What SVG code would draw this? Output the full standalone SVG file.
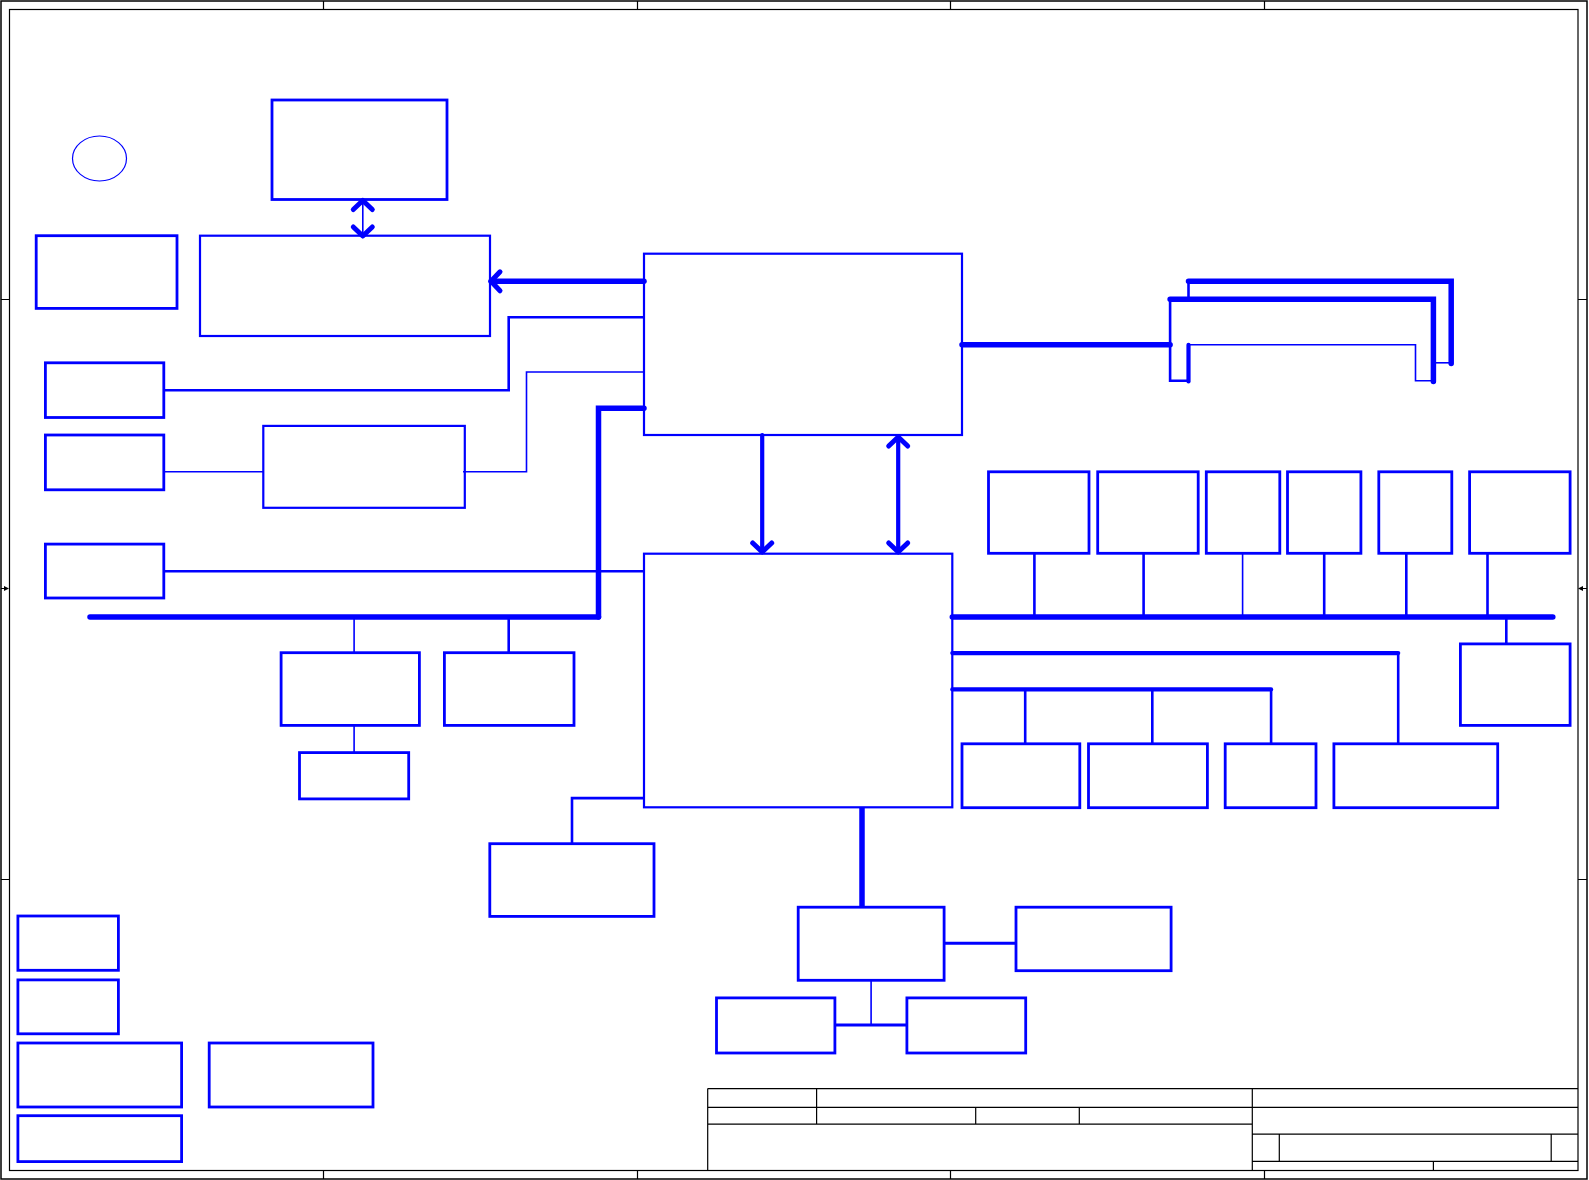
<svg xmlns="http://www.w3.org/2000/svg" width="1589" height="1180" viewBox="0 0 1589 1180">
<style>
.frame{fill:none;stroke:#000;stroke-width:1.5}
.fl{stroke:#000;stroke-width:1.2;fill:none}
.box{fill:none;stroke:#0000ff;stroke-width:2.8}
.boxt{fill:none;stroke:#0000ff;stroke-width:2.2}
.w1{fill:none;stroke:#0000ff;stroke-width:1.6}
.w2{fill:none;stroke:#0000ff;stroke-width:2.6}
.w4{fill:none;stroke:#0000ff;stroke-width:4.2;stroke-linecap:round}
.w5{fill:none;stroke:#0000ff;stroke-width:5.5;stroke-linecap:round}
</style>
<defs>
<marker id="chev" markerUnits="userSpaceOnUse" viewBox="-16 -16 32 32" markerWidth="32" markerHeight="32" refX="0" refY="0" orient="auto-start-reverse">
<path d="M-9,-9.5 L0,0 L-9,9.5" fill="none" stroke="#0000ff" stroke-width="5" stroke-linecap="round" stroke-linejoin="round"/>
</marker>
<polygon id="tri" points="0,-2.5 5,0 0,2.5" fill="#000"/>
</defs>
<rect width="1589" height="1180" fill="#fff"/>
<g id="frame">
<rect class="frame" x="1" y="1" width="1586" height="1178"/>
<rect class="fl" x="9.5" y="9.5" width="1568.5" height="1161"/>
<path class="fl" d="M323.5,1V9.5M637.5,1V9.5M950.5,1V9.5M1264.5,1V9.5M323.5,1170.5V1179M637.5,1170.5V1179M950.5,1170.5V1179M1264.5,1170.5V1179M1,299.5H9.5M1,879.5H9.5M1578,299.5H1587M1578,879.5H1587M1,588.5H5M1582,588.5H1587"/>
<use href="#tri" x="4" y="588.5"/>
<use href="#tri" transform="translate(1583,588.5) rotate(180)"/>
</g>
<g id="titleblock">
<path class="fl" d="M707.7,1088.6H1578M707.7,1107.3H1578M707.7,1124.1H1252.3M1252.3,1134.1H1578M1252.3,1161.3H1578M707.7,1088.6V1170.5M816.6,1088.6V1124.1M975.7,1107.3V1124.1M1079.3,1107.3V1124.1M1252.3,1088.6V1170.5M1279.3,1134.1V1161.3M1551.2,1134.1V1161.3M1433.4,1161.3V1170.5"/>
</g>
<g id="connectors">
<path class="w1" d="M362.8,200.5V236" marker-start="url(#chev)" marker-end="url(#chev)"/>
<path class="w5" d="M644,281.3H491" marker-end="url(#chev)"/>
<path class="w2" d="M644,317.2H508.7V390.3H163.8"/>
<path class="w1" d="M644,372H526.5V471.8H463"/>
<path class="w1" d="M163.8,471.8H263.3"/>
<path class="w5" d="M644,408.3H598.5V617.1"/>
<path class="w2" d="M163.8,571.3H644"/>
<path class="w5" d="M90,617.1H598.5"/>
<path class="w1" d="M354.1,617.1V652.7M354.1,725.4V752.6"/>
<path class="w2" d="M508.7,617.1V652.7"/>
<path class="w2" d="M644,798.1H572V843.7"/>
<path class="w4" d="M762.2,435V552" marker-end="url(#chev)"/>
<path class="w4" d="M898.2,437V552" marker-start="url(#chev)" marker-end="url(#chev)"/>
<path class="w5" d="M962,344.8H1170.1"/>
<path class="w2" d="M1170.1,299.2V380.8H1188.5"/>
<path class="w5" d="M1170.1,299.2H1433.4V381.5"/>
<path class="w4" d="M1188.5,344.8V381.5"/>
<path class="w1" d="M1188.5,344.8H1415.5V380.8H1433.4"/>
<path class="w2" d="M1188.5,281.3V299.2"/>
<path class="w5" d="M1188.5,281.3H1451.2V363.5"/>
<path class="w1" d="M1433.4,362.8H1451.2"/>
<path class="w5" d="M952.3,617.1H1552.8"/>
<path class="w2" d="M1034.4,553.3V617.1M1143.6,553.3V617.1M1324.2,553.3V617.1M1406.3,553.3V617.1M1487.5,553.3V617.1M1506.3,617.1V643.9"/>
<path class="w1" d="M1242.6,553.3V617.1"/>
<path class="w4" d="M952.3,653.1H1398.2"/>
<path class="w2" d="M1398.2,653.1V743.8"/>
<path class="w4" d="M952.3,689.4H1271.1"/>
<path class="w2" d="M1025.2,689.4V743.8M1152.3,689.4V743.8M1271.1,689.4V743.8"/>
<path class="w5" d="M862,807.3V907.2" style="stroke-linecap:butt"/>
<path class="w2" d="M944.1,943.2H1016" style="stroke-width:3"/>
<path class="w1" d="M871.1,980.3V1025"/>
<path class="w2" d="M834.9,1025H906.9" style="stroke-width:3"/>
</g>
<g id="nodes">
<g id="n-circle"><ellipse cx="99.5" cy="158.5" rx="27" ry="22.5" fill="none" stroke="#0000ff" stroke-width="1.2"/></g>
<g id="n-A"><rect class="box" x="272" y="100" width="175" height="99.5"/></g>
<g id="n-B"><rect class="boxt" x="200" y="235.7" width="290" height="100.3"/></g>
<g id="n-C"><rect class="box" x="36.2" y="235.7" width="140.8" height="72.7"/></g>
<g id="n-D"><rect class="box" x="45.4" y="362.8" width="118.4" height="54.7"/></g>
<g id="n-E"><rect class="box" x="45.4" y="435" width="118.4" height="54.8"/></g>
<g id="n-F"><rect class="boxt" x="263.3" y="425.9" width="201.5" height="81.9"/></g>
<g id="n-G"><rect class="box" x="45.4" y="544.1" width="118.4" height="53.9"/></g>
<g id="n-N"><rect class="boxt" x="644" y="253.7" width="318" height="181.3"/></g>
<g id="n-S"><rect class="boxt" x="644" y="553.7" width="308.3" height="253.6"/></g>
<g id="n-H"><rect class="box" x="281.1" y="652.7" width="138.3" height="72.7"/></g>
<g id="n-I"><rect class="box" x="444.4" y="652.7" width="129.6" height="72.7"/></g>
<g id="n-J"><rect class="box" x="299.5" y="752.6" width="109.2" height="46.3"/></g>
<g id="n-K"><rect class="box" x="489.8" y="843.7" width="164.2" height="72.7"/></g>
<g id="n-L1"><rect class="box" x="17.9" y="916" width="100.5" height="54.3"/></g>
<g id="n-L2"><rect class="box" x="17.9" y="979.9" width="100.5" height="53.9"/></g>
<g id="n-L3"><rect class="box" x="17.9" y="1043" width="163.7" height="64"/></g>
<g id="n-L4"><rect class="box" x="209.2" y="1043" width="163.8" height="64"/></g>
<g id="n-L5"><rect class="box" x="17.9" y="1115.7" width="163.7" height="45.9"/></g>
<g id="n-P1"><rect class="box" x="988.5" y="471.8" width="100.5" height="81.5"/></g>
<g id="n-P2"><rect class="box" x="1097.7" y="471.8" width="100.5" height="81.5"/></g>
<g id="n-P3"><rect class="box" x="1206.3" y="471.8" width="73.5" height="81.5"/></g>
<g id="n-P4"><rect class="box" x="1287.5" y="471.8" width="73.4" height="81.5"/></g>
<g id="n-P5"><rect class="box" x="1378.8" y="471.8" width="73" height="81.5"/></g>
<g id="n-P6"><rect class="box" x="1469.6" y="471.8" width="100.5" height="81.5"/></g>
<g id="n-Q"><rect class="box" x="1460.4" y="643.9" width="109.7" height="81.5"/></g>
<g id="n-R1"><rect class="box" x="962" y="743.8" width="117.8" height="63.9"/></g>
<g id="n-R2"><rect class="box" x="1088.5" y="743.8" width="118.9" height="63.9"/></g>
<g id="n-R3"><rect class="box" x="1225.2" y="743.8" width="90.8" height="63.9"/></g>
<g id="n-R4"><rect class="box" x="1333.9" y="743.8" width="163.8" height="63.9"/></g>
<g id="n-T"><rect class="box" x="798.2" y="907.2" width="145.9" height="73.1"/></g>
<g id="n-U"><rect class="box" x="1016" y="907.2" width="155.1" height="63.5"/></g>
<g id="n-V"><rect class="box" x="716.5" y="997.9" width="118.4" height="55.1"/></g>
<g id="n-W"><rect class="box" x="906.9" y="997.9" width="118.8" height="55.1"/></g>
</g>
</svg>
